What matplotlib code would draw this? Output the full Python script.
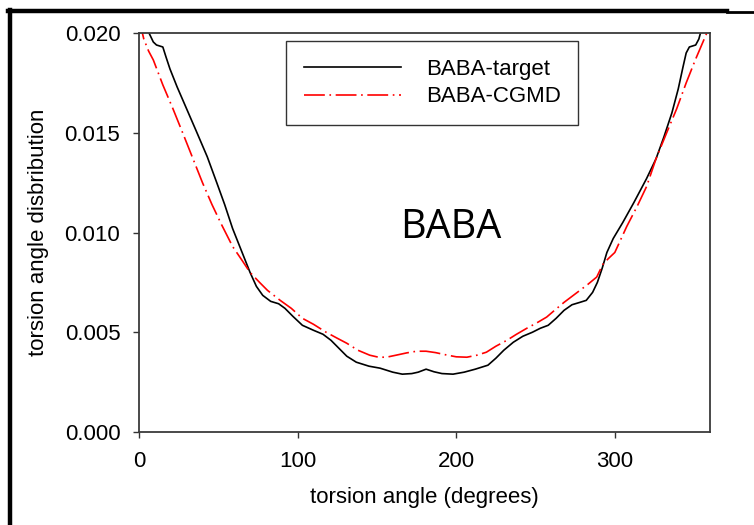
#!/usr/bin/env python3
# torsion angle distribution, BABA target vs CGMD

import matplotlib
matplotlib.use("Agg")
import matplotlib.pyplot as plt
from matplotlib.lines import Line2D

# ── Data ──────────────────────────────────────────────────────────────────────
target_angle = [5, 6.3, 9, 11, 15, 17, 19.5, 24, 30, 36, 43, 49, 54, 59, 63, 67,
                70, 74, 78, 83, 88, 92, 97, 103, 110, 116, 121, 126, 131, 137,
                145, 152, 160, 166, 172, 176, 181, 186, 191, 198, 205, 212,
                220, 225, 230, 236, 242, 248, 253, 258, 263, 268, 273, 278,
                282, 286, 289, 292, 295, 299, 305, 312, 320, 326, 331, 336,
                340, 343, 345, 347, 351, 353, 355, 356]
target_dist = [0.0206, 0.0200, 0.01955, 0.0194, 0.0193, 0.0188, 0.0182, 0.0173,
               0.0162, 0.0151, 0.0138, 0.0125, 0.0114, 0.0102, 0.0094, 0.0086,
               0.0080, 0.0073, 0.00685, 0.00655, 0.00643, 0.0062, 0.0058,
               0.00535, 0.0051, 0.0049, 0.0046, 0.0042, 0.0038, 0.0035, 0.0033,
               0.0032, 0.0030, 0.0029, 0.00293, 0.0030, 0.00315, 0.00302,
               0.00293, 0.0029, 0.0030, 0.00315, 0.00335, 0.0037, 0.0041,
               0.0045, 0.0048, 0.0050, 0.0052, 0.00535, 0.0057, 0.0061,
               0.00638, 0.0065, 0.0066, 0.0070, 0.0075, 0.0082, 0.0090,
               0.0097, 0.0105, 0.0115, 0.0127, 0.0137, 0.0148, 0.0160, 0.0172,
               0.0183, 0.0190, 0.0193, 0.0194, 0.0197, 0.0203, 0.0207]

cgmd_angle = [0, 3, 6, 9, 15, 21.4, 28, 34, 40, 46, 52, 59, 65, 70, 76, 81, 89,
              96, 103, 110, 118, 125, 131, 138, 145.5, 151, 156, 162, 169, 175,
              181, 187, 194, 200, 206.7, 213, 219, 225, 232, 238, 244.5, 251,
              257, 262, 268, 273, 278, 283, 288.6, 292.4, 296, 300, 307.5, 314,
              320, 326, 332.7, 339, 345, 351, 358, 360]
cgmd_dist = [0.0207, 0.0197, 0.0191, 0.01865, 0.0174, 0.0162, 0.0149, 0.0137,
             0.0125, 0.0114, 0.0104, 0.0093, 0.0086, 0.0080, 0.0075, 0.0071,
             0.0066, 0.0062, 0.0057, 0.0054, 0.0050, 0.0047, 0.00445, 0.0041,
             0.00385, 0.00375, 0.00375, 0.00385, 0.00397, 0.00405, 0.00405,
             0.00398, 0.00386, 0.00377, 0.00375, 0.00385, 0.0040, 0.0043,
             0.0046, 0.0049, 0.0052, 0.00548, 0.00576, 0.0061, 0.0065, 0.0068,
             0.0071, 0.0074, 0.00777, 0.0084, 0.0087, 0.0090, 0.0103, 0.0113,
             0.0123, 0.0137, 0.0150, 0.0162, 0.0175, 0.0187, 0.0200, 0.0204]

x_ticks = [0, 100, 200, 300]
y_ticks = [0.000, 0.005, 0.010, 0.015, 0.020]
# ────────────────────────────────────────────────────────────────────────────────

plt.rcParams['font.family'] = ['Liberation Sans', 'DejaVu Sans']
plt.rcParams['lines.scale_dashes'] = False

fig = plt.figure(figsize=(7.54, 5.25), dpi=100)
ax = fig.add_axes([0.1844, 0.1771, 0.7572, 0.76])

ax.plot(target_angle, target_dist, color='black', lw=1.2, label='BABA-target')
ax.plot(cgmd_angle, cgmd_dist, color='red', lw=1.2, dashes=(15, 3.3, 1.2, 3.3),
        label='BABA-CGMD')

ax.set_xlim(0, 360)
ax.set_ylim(0, 0.020)
ax.set_xticks(x_ticks)
ax.set_yticks(y_ticks)
ax.set_yticklabels([f"{v:.3f}" for v in y_ticks])
ax.tick_params(direction='out', length=4.5, width=1, labelsize=16, color='#333333')
ax.tick_params(axis='x', pad=9)
ax.tick_params(axis='y', pad=9)
for sp in ax.spines.values():
    sp.set_color('#3a3a3a')
    sp.set_linewidth(1.3)

ax.set_xlabel("torsion angle (degrees)", fontsize=16, labelpad=11)
ax.set_ylabel("torsion angle disbribution", fontsize=16, labelpad=11)

ax.text(196.6, 0.01025, "BABA", fontsize=28.5, family='Open Sans',
        ha='center', va='center')

leg = ax.legend(loc='upper left', bbox_to_anchor=(0.257, 0.98), fontsize=16,
                frameon=True, fancybox=False, handlelength=4.4,
                handletextpad=1.1, borderpad=0.8, labelspacing=0.3,
                borderaxespad=0)
leg.get_frame().set_edgecolor('black')
leg.get_frame().set_linewidth(1.0)

# outer frame drawn around the figure (top + left only)
W, H = 754, 525
fig.add_artist(Line2D([8 / W, 727 / W], [1 - 11 / H, 1 - 11 / H],
                      color='black', lw=3.2, transform=fig.transFigure))
fig.add_artist(Line2D([727 / W, 1.0], [1 - 12 / H, 1 - 12 / H],
                      color='black', lw=2.0, transform=fig.transFigure))
fig.add_artist(Line2D([10 / W, 10 / W], [0, 1 - 9.5 / H],
                      color='black', lw=3.2, transform=fig.transFigure))

fig.savefig("out.png", dpi=100)
